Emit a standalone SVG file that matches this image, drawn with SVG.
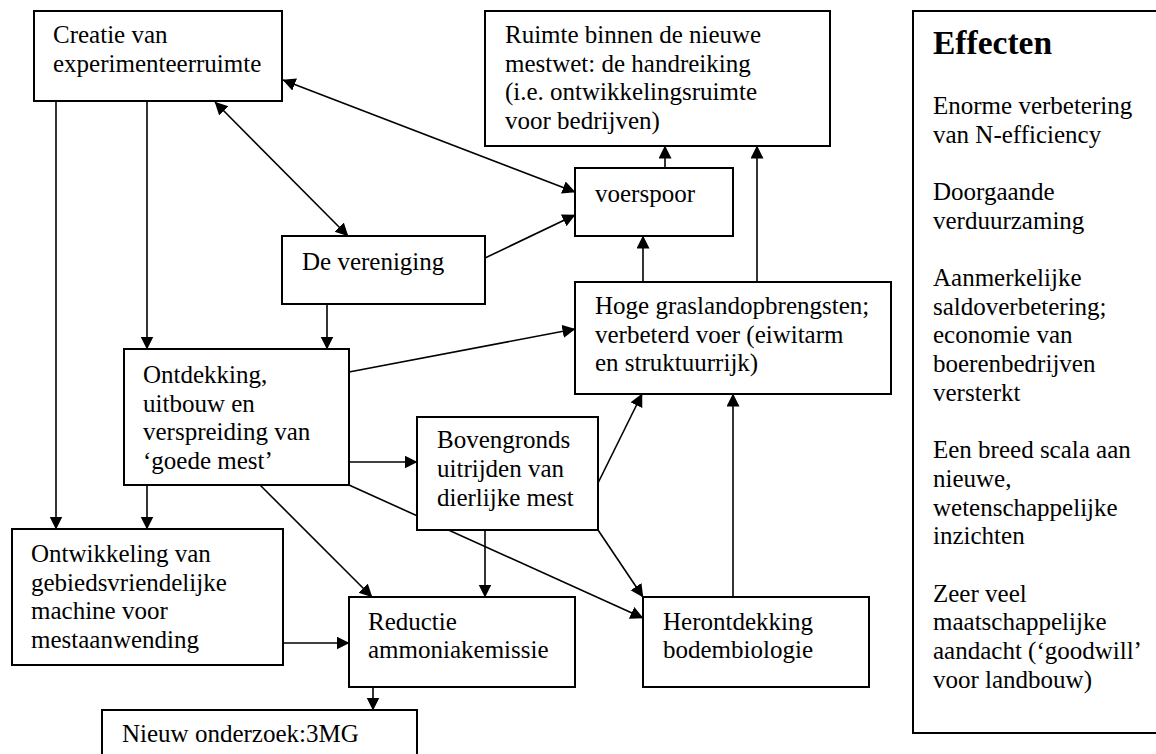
<svg xmlns="http://www.w3.org/2000/svg" width="1156" height="754" viewBox="0 0 1156 754">
<style>
.box{fill:#fff;stroke:#000;stroke-width:2}
.t{font-family:"Liberation Serif","Times New Roman",serif;font-size:25px;fill:#000}
.h{font-family:"Liberation Serif","Times New Roman",serif;font-size:33.5px;font-weight:bold;fill:#000}
.c{fill:none;stroke:#000;stroke-width:1.6}
</style>
<defs>
<marker id="ah" markerUnits="userSpaceOnUse" markerWidth="13" markerHeight="14" refX="12.5" refY="6.5" orient="auto-start-reverse">
<path d="M0,0 L13,6.5 L0,13 z" fill="#000"/>
</marker>
</defs>
<rect width="1156" height="754" fill="#fff"/>
<g id="connectors">
<path class="c" d="M283,80 L575,192" marker-start="url(#ah)" marker-end="url(#ah)"/>
<path class="c" d="M215,102 L348,236" marker-start="url(#ah)" marker-end="url(#ah)"/>
<path class="c" d="M485,258 L575,215" marker-end="url(#ah)"/>
<path class="c" d="M56,101 L56,529" marker-end="url(#ah)"/>
<path class="c" d="M147,101 L147,349" marker-end="url(#ah)"/>
<path class="c" d="M327,304 L327,349" marker-end="url(#ah)"/>
<path class="c" d="M665,168 L665,146" marker-end="url(#ah)"/>
<path class="c" d="M757,282 L757,146" marker-end="url(#ah)"/>
<path class="c" d="M643,282 L643,236" marker-end="url(#ah)"/>
<path class="c" d="M349,372 L575,329" marker-end="url(#ah)"/>
<path class="c" d="M349,462 L417,462" marker-end="url(#ah)"/>
<path class="c" d="M598,483 L642,394" marker-end="url(#ah)"/>
<path class="c" d="M733,597 L733,394" marker-end="url(#ah)"/>
<path class="c" d="M598,530 L643,597" marker-end="url(#ah)"/>
<path class="c" d="M349,485 L643,618" marker-end="url(#ah)"/>
<path class="c" d="M260,485 L372,597" marker-end="url(#ah)"/>
<path class="c" d="M485,530 L485,597" marker-end="url(#ah)"/>
<path class="c" d="M147,485 L147,529" marker-end="url(#ah)"/>
<path class="c" d="M283,643 L349,643" marker-end="url(#ah)"/>
<path class="c" d="M373,687 L373,710" marker-end="url(#ah)"/>
</g>
<g id="creatie">
<rect class="box" x="34" y="11" width="248" height="90"/>
<text class="t" x="53" y="43">Creatie van</text>
<text class="t" x="53" y="72">experimenteerruimte</text>
</g>
<g id="ruimte">
<rect class="box" x="485" y="11" width="345" height="135"/>
<text class="t" x="505" y="43">Ruimte binnen de nieuwe</text>
<text class="t" x="505" y="72">mestwet: de handreiking</text>
<text class="t" x="505" y="100">(i.e. ontwikkelingsruimte</text>
<text class="t" x="505" y="129">voor bedrijven)</text>
</g>
<g id="voerspoor">
<rect class="box" x="575" y="168" width="158" height="68"/>
<text class="t" x="595" y="202">voerspoor</text>
</g>
<g id="vereniging">
<rect class="box" x="282" y="236" width="203" height="68"/>
<text class="t" x="302" y="270">De vereniging</text>
</g>
<g id="hoge">
<rect class="box" x="575" y="282" width="316" height="112"/>
<text class="t" x="595" y="314">Hoge graslandopbrengsten;</text>
<text class="t" x="595" y="343">verbeterd voer (eiwitarm</text>
<text class="t" x="595" y="371">en struktuurrijk)</text>
</g>
<g id="ontdekking">
<rect class="box" x="124" y="349" width="225" height="136"/>
<text class="t" x="143" y="383">Ontdekking,</text>
<text class="t" x="143" y="412">uitbouw en</text>
<text class="t" x="143" y="440">verspreiding van</text>
<text class="t" x="143" y="469">‘goede mest’</text>
</g>
<g id="bovengronds">
<rect class="box" x="417" y="417" width="181" height="113"/>
<text class="t" x="437" y="448">Bovengronds</text>
<text class="t" x="437" y="477">uitrijden van</text>
<text class="t" x="437" y="506">dierlijke mest</text>
</g>
<g id="ontwikkeling">
<rect class="box" x="12" y="529" width="271" height="136"/>
<text class="t" x="31" y="562">Ontwikkeling van</text>
<text class="t" x="31" y="591">gebiedsvriendelijke</text>
<text class="t" x="31" y="619">machine voor</text>
<text class="t" x="31" y="648">mestaanwending</text>
</g>
<g id="reductie">
<rect class="box" x="349" y="597" width="226" height="90"/>
<text class="t" x="368" y="630">Reductie</text>
<text class="t" x="368" y="658">ammoniakemissie</text>
</g>
<g id="herontdekking">
<rect class="box" x="643" y="597" width="226" height="90"/>
<text class="t" x="663" y="630">Herontdekking</text>
<text class="t" x="663" y="658">bodembiologie</text>
</g>
<g id="nieuw">
<rect class="box" x="102" y="710" width="315" height="70"/>
<text class="t" x="122" y="742">Nieuw onderzoek:3MG</text>
</g>
<g id="effecten">
<rect class="box" x="913" y="11" width="260" height="722"/>
<text class="h" x="933" y="54">Effecten</text>
<text class="t" x="933" y="114">Enorme verbetering</text>
<text class="t" x="933" y="143">van N-efficiency</text>
<text class="t" x="933" y="200">Doorgaande</text>
<text class="t" x="933" y="229">verduurzaming</text>
<text class="t" x="933" y="286">Aanmerkelijke</text>
<text class="t" x="933" y="315">saldoverbetering;</text>
<text class="t" x="933" y="343">economie van</text>
<text class="t" x="933" y="372">boerenbedrijven</text>
<text class="t" x="933" y="401">versterkt</text>
<text class="t" x="933" y="458">Een breed scala aan</text>
<text class="t" x="933" y="487">nieuwe,</text>
<text class="t" x="933" y="516">wetenschappelijke</text>
<text class="t" x="933" y="544">inzichten</text>
<text class="t" x="933" y="602">Zeer veel</text>
<text class="t" x="933" y="630">maatschappelijke</text>
<text class="t" x="933" y="659">aandacht (‘goodwill’</text>
<text class="t" x="933" y="688">voor landbouw)</text>
</g>
</svg>
